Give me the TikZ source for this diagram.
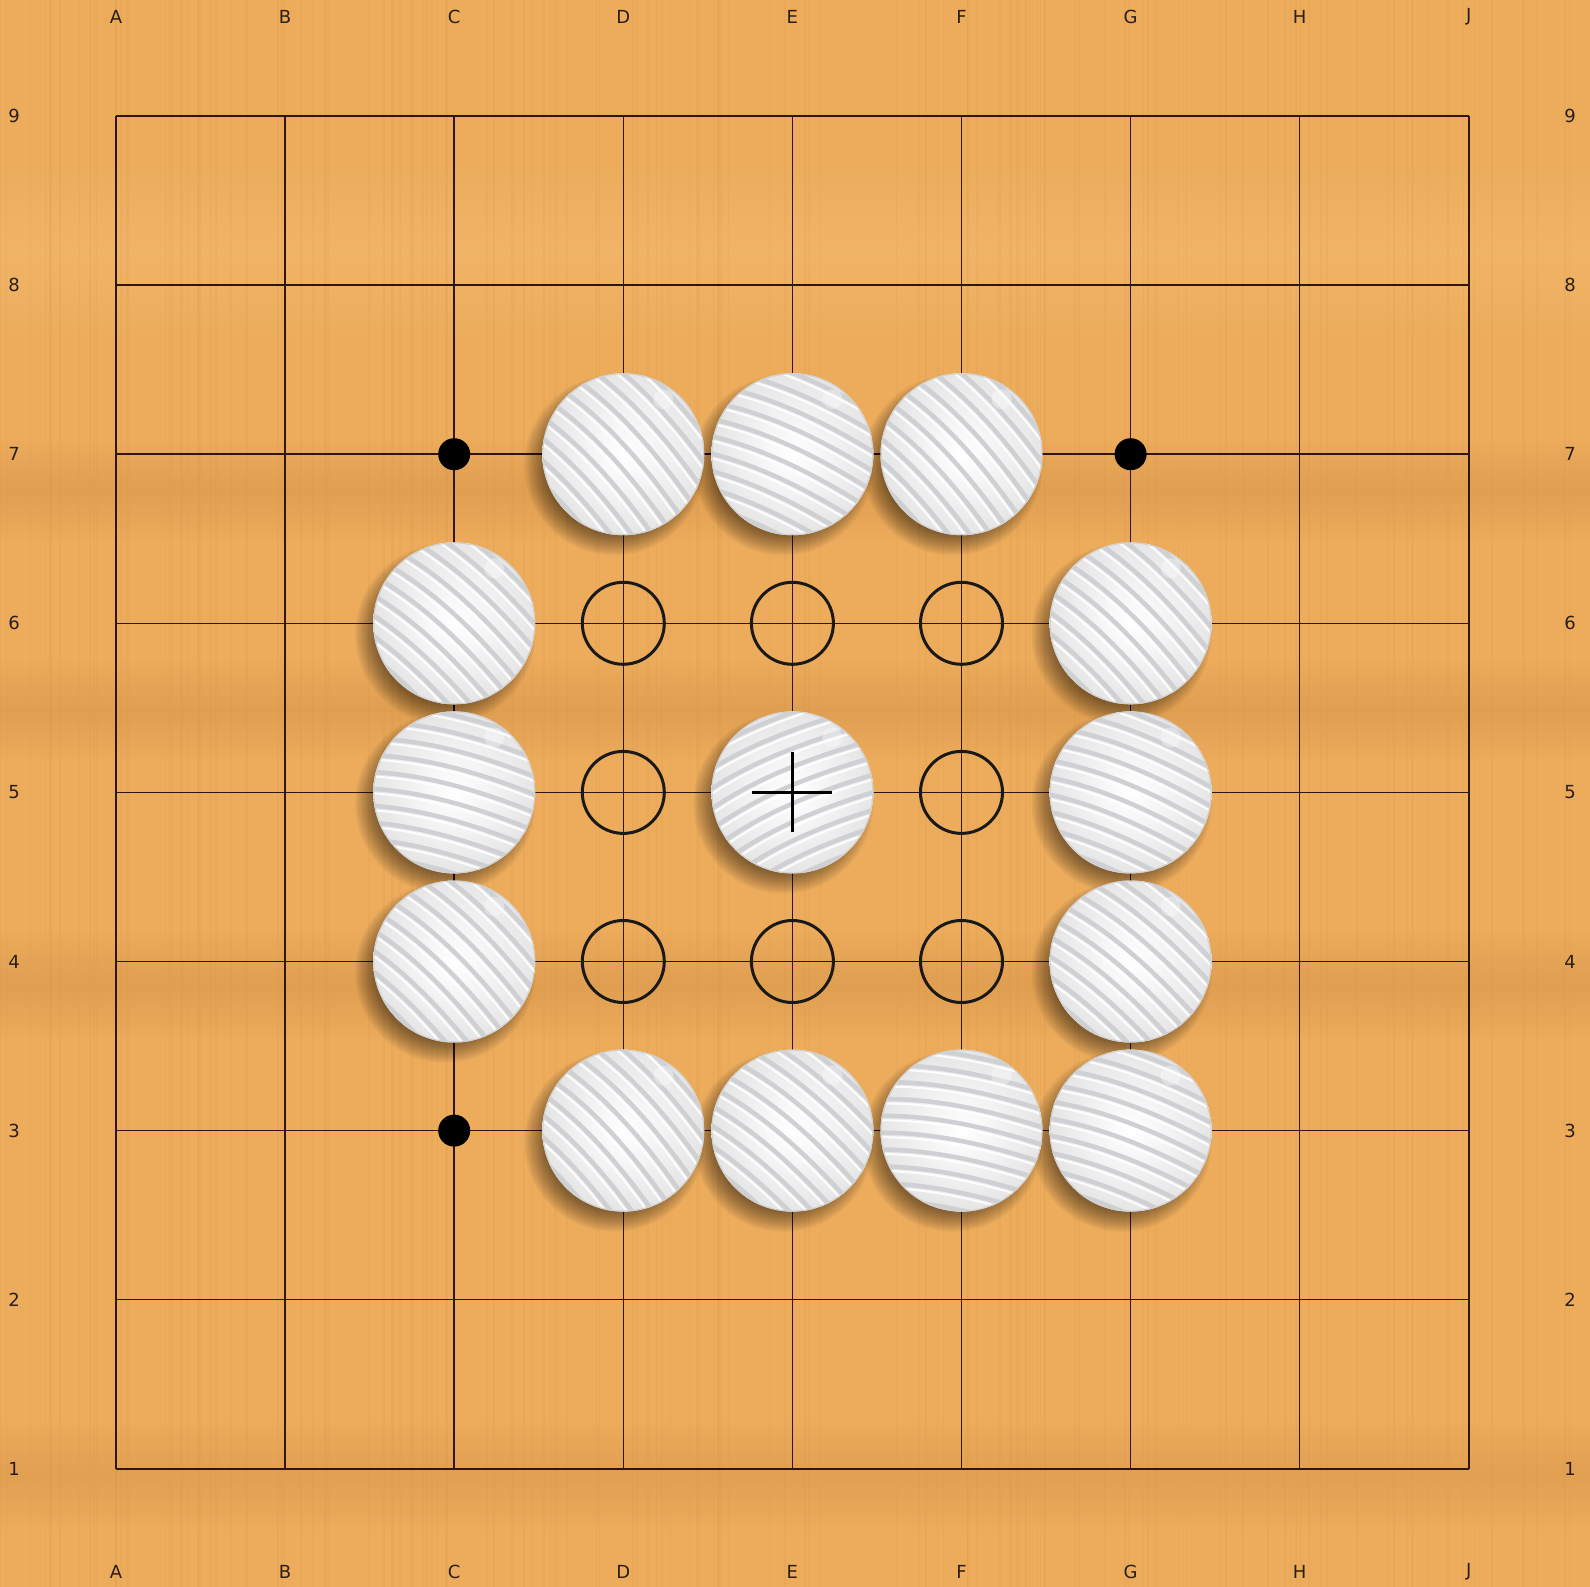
\documentclass[tikz,border=0pt]{standalone}
\usepackage{fontspec}
\setmainfont{DejaVu Sans}
\definecolor{wood}{RGB}{236,172,92}
\definecolor{woodd}{RGB}{214,146,70}
\definecolor{woodl}{RGB}{244,186,110}
\definecolor{gridc}{RGB}{48,22,16}
\definecolor{labc}{RGB}{42,30,22}
\definecolor{stripec}{RGB}{206,208,212}
\tikzset{
  gridline/.style={draw=gridc, line width=1.5pt},
  lab/.style={text=labc, font=\fontsize{18}{20}\selectfont, inner sep=0pt},
  hoshi/.style={circle, fill=black, minimum size=32pt, inner sep=0pt},
  ring/.style={circle, draw=black!90, line width=3pt, minimum size=82pt, inner sep=0pt},
  crossline/.style={draw=black, line width=3pt},
  stone/.style={circle, inner sep=0pt, minimum size=162pt,
    inner color=white, outer color=black!10},
  stripe/.style={draw=stripec, line width=4.5pt, line cap=round},
  stripehi/.style={draw=white, line width=2pt, opacity=0.9},
}
\newcommand\stoneshadow[1]{%
  \begin{scope}[shift={(#1)}]
    \foreach \k in {0,...,11}{\fill[black, opacity=0.045] (-9,11) circle ({90-\k*1.8});}
  \end{scope}}
\newcommand\drawstone[2]{%
  \node[stone] (s#1) at (#1) {};
  \begin{scope}
    \clip (#1) circle (81);
    \begin{scope}[shift={(#1)}, rotate=#2]
      \foreach \k in {-6,...,6}{
        \draw[stripe] (-100,{\k*17}) .. controls (-35,{\k*17-14}) and (35,{\k*17-6}) .. (100,{\k*17+6});
        \draw[stripehi] (-100,{\k*17+4.5}) .. controls (-35,{\k*17-9.5}) and (35,{\k*17-1.5}) .. (100,{\k*17+10.5});
      }
    \end{scope}
    \fill[white, opacity=0.35] ([shift={(40,-55)}]#1) circle (10);
    \draw[black!18, line width=1.2pt] (#1) circle (80.5);
  \end{scope}}
\begin{document}
\begin{tikzpicture}[x=1pt,y=-1pt]
\useasboundingbox (0,0) rectangle (1590,1587);
% wood background
\fill[wood] (0,0) rectangle (1590,1587);
\shade[top color=wood, bottom color=wood, middle color=woodd, opacity=0.5] (0,440) rectangle (1590,540);
\shade[top color=wood, bottom color=wood, middle color=woodd, opacity=0.5] (0,660) rectangle (1590,760);
\shade[top color=wood, bottom color=wood, middle color=woodd, opacity=0.5] (0,930) rectangle (1590,1040);
\shade[top color=wood, bottom color=wood, middle color=woodd, opacity=0.45] (0,1420) rectangle (1590,1530);
\shade[top color=wood, bottom color=wood, middle color=woodl, opacity=0.6] (0,160) rectangle (1590,340);
\pgfmathsetseed{7}
\foreach \i in {1,...,140}{
  \pgfmathsetmacro\xx{rnd*1590}
  \pgfmathsetmacro\ww{0.5+rnd*2}
  \draw[woodd, opacity=0.14, line width=\ww pt] (\xx,0) -- (\xx,1587);
}
% coordinates
\foreach \c [count=\i from 0] in {A,B,C,D,E,F,G,H,J}{
  \foreach \r in {1,...,9}{
    \coordinate (\c\r) at ({116+169.1*\i},{116+169.1*(9-\r)});
  }
}
% grid
\foreach \c in {A,B,C,D,E,F,G,H,J}{\draw[gridline] (\c9) -- (\c1);}
\foreach \r in {1,...,9}{\draw[gridline] (A\r) -- (J\r);}
% labels
\foreach \c [count=\i from 0] in {A,B,C,D,E,F,G,H,J}{
  \node[lab] (top\c) at ({116+169.1*\i},17) {\c};
  \node[lab] (bot\c) at ({116+169.1*\i},1572) {\c};
}
\foreach \r in {1,...,9}{
  \node[lab] (left\r) at (14,{116+169.1*(9-\r)}) {\r};
  \node[lab] (right\r) at (1570,{116+169.1*(9-\r)}) {\r};
}
% star points
\node[hoshi] (hC7) at (C7) {};
\node[hoshi] (hG7) at (G7) {};
\node[hoshi] (hC3) at (C3) {};
% rings
\foreach \p in {D6,E6,F6,D5,F5,D4,E4,F4}{\node[ring] (ring\p) at (\p) {};}
% stone shadows
\foreach \p in {D7,E7,F7,C6,G6,C5,E5,G5,C4,G4,D3,E3,F3,G3}{\stoneshadow{\p}}
% stones
\foreach \p/\a in {D7/-45,E7/-22,F7/-45,C6/-40,G6/-42,C5/-12,E5/26,G5/-20,C4/-42,G4/-38,D3/-45,E3/-38,F3/-8,G3/-18}{
  \drawstone{\p}{\a}
}
% cross on E5
\draw[crossline] ([xshift=-40pt]E5) -- ([xshift=40pt]E5);
\draw[crossline] ([yshift=-40pt]E5) -- ([yshift=40pt]E5);
\end{tikzpicture}
\end{document}
